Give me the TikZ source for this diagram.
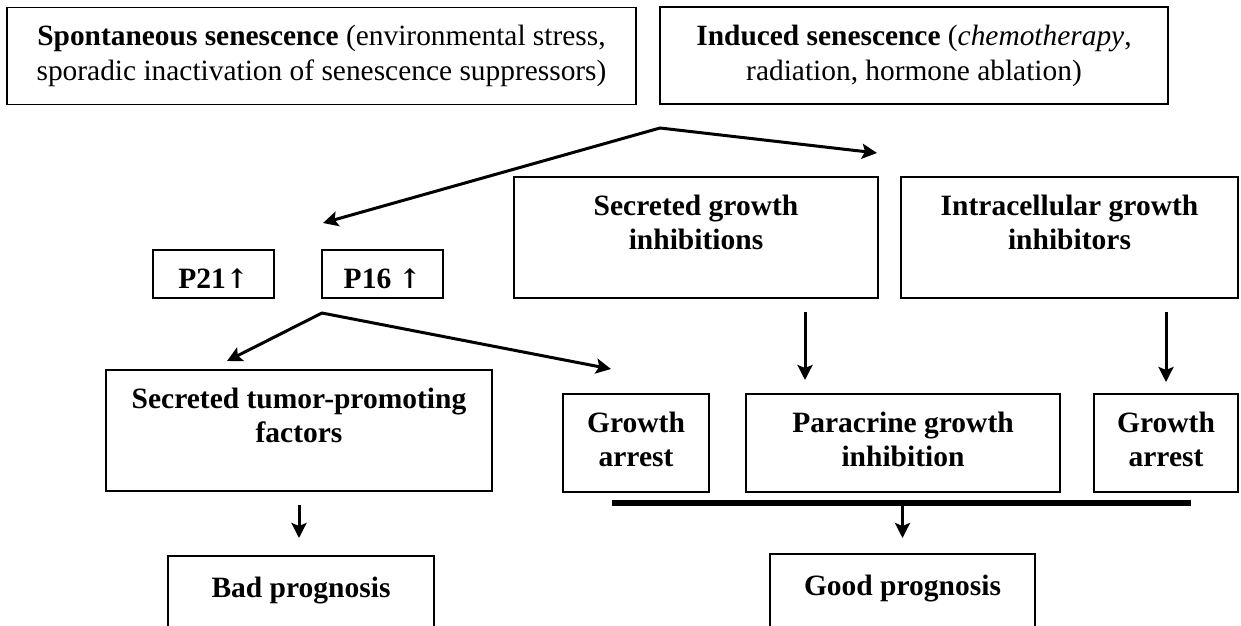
\documentclass[tikz,border=0pt]{standalone}
\usepackage{fontspec}
\setmainfont{Liberation Serif}
\newfontfamily\arrowfont{DejaVu Serif}
\usepackage{tikz}
\usetikzlibrary{arrows.meta}
\tikzset{edge/.style = {-{Stealth[length=15pt,width=15pt,inset=3pt]}, line width=3pt, line cap=round}}
\tikzset{box/.style = {draw, line width=1.7pt, align=center, inner xsep=0pt, inner ysep=0pt, anchor=north}}
\tikzset{bar/.style = {line width=6pt}}
\newcommand{\topfont}{\fontsize{29.4}{35}\selectfont}
\newcommand{\boxfont}{\fontsize{29.5}{34}\selectfont\bfseries}
\newcommand{\levelup}{{\arrowfont\bfseries\fontsize{27}{27}\selectfont ↑}}

\begin{document}
\begin{tikzpicture}[x=1pt, y=-1pt]
    \useasboundingbox (0,0) rectangle (1241,625);

    % Top boxes
    \node[box, anchor=center, font=\topfont, minimum width=629pt, minimum height=97pt] (spont) at (321.5,56)
        {\textbf{Spontaneous senescence} (environmental stress,\\sporadic inactivation of senescence suppressors)};
    \node[box, anchor=center, font=\topfont, minimum width=508pt, minimum height=97pt] (induced) at (914,55.5)
        {\textbf{Induced senescence} (\textit{chemotherapy},\\radiation, hormone ablation)};

    % Middle boxes
    \node[box, font=\boxfont, minimum width=121pt, text height=39pt, text depth=9pt] (p21) at (213.5,249) {P21\levelup};
    \node[box, font=\boxfont, minimum width=121pt, text height=39pt, text depth=9pt] (p16) at (382.5,249) {P16 \levelup};
    \node[box, font=\boxfont, minimum width=364pt, text height=73pt, text depth=48pt] (secgrowth) at (696,176)
        {Secreted growth\\inhibitions};
    \node[box, font=\boxfont, minimum width=337pt, text height=73pt, text depth=48pt] (intra) at (1069.5,176)
        {Intracellular growth\\inhibitors};

    % Lower boxes
    \node[box, font=\boxfont, minimum width=386pt, text height=73pt, text depth=48pt] (tumor) at (299,369)
        {Secreted tumor-promoting\\factors};
    \node[box, font=\boxfont, minimum width=146pt, text height=73pt, text depth=25pt] (arrest1) at (636,393)
        {Growth\\arrest};
    \node[box, font=\boxfont, minimum width=314pt, text height=73pt, text depth=25pt] (para) at (903,393)
        {Paracrine growth\\inhibition};
    \node[box, font=\boxfont, minimum width=144pt, text height=73pt, text depth=25pt] (arrest2) at (1166,393)
        {Growth\\arrest};

    % Outcome boxes
    \node[box, font=\boxfont, minimum width=266pt, text height=42pt, text depth=79pt] (bad) at (301,555) {Bad prognosis};
    \node[box, font=\boxfont, minimum width=265pt, text height=42pt, text depth=79pt] (good) at (902.5,553) {Good prognosis};

    % Forks
    \coordinate (fork1) at (660,128);
    \coordinate (tip1r) at (877,153);
    \coordinate (tip1l) at (323,223);
    \coordinate (fork2) at (322,313);
    \coordinate (tip2l) at (227,361);
    \coordinate (tip2r) at (611,369);
    \coordinate (barl) at (612,503);
    \coordinate (barr) at (1191,503);

    \draw[edge] (fork1) -- (tip1r);
    \draw[edge] (fork1) -- (tip1l);
    \draw[edge] (fork2) -- (tip2l);
    \draw[edge] (fork2) -- (tip2r);

    % Down arrows
    \draw[edge, line cap=butt, shorten <=13pt, shorten >=13pt] ([xshift=109pt]secgrowth.south) -- ([xshift=109pt]secgrowth.south |- para.north);
    \draw[edge, line cap=butt, shorten <=13pt, shorten >=11pt] (intra.south -| arrest2.north) -- (arrest2.north);
    \draw[edge, line cap=butt, shorten <=13pt, shorten >=17pt] (tumor.south) -- (tumor.south |- bad.north);
    \draw[bar] (barl) -- (barr);
    \draw[edge, line cap=butt, shorten >=15pt] (good.north |- barl) -- (good.north);
\end{tikzpicture}
\end{document}
